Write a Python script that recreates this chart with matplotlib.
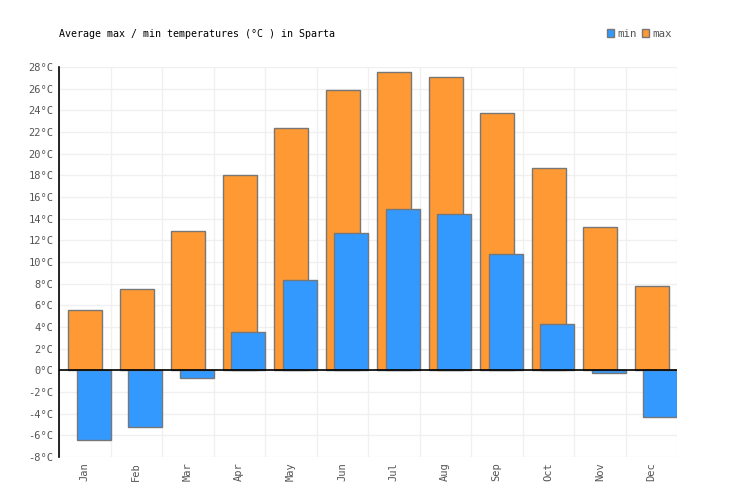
import numpy as np
import matplotlib.pyplot as plt
from matplotlib.patches import Patch

months = ['Jan', 'Feb', 'Mar', 'Apr', 'May', 'Jun', 'Jul', 'Aug', 'Sep', 'Oct', 'Nov', 'Dec']
t_max = [5.6, 7.5, 12.9, 18.0, 22.4, 25.9, 27.5, 27.1, 23.8, 18.7, 13.2, 7.8]
t_min = [-6.4, -5.2, -0.7, 3.5, 8.3, 12.7, 14.9, 14.4, 10.7, 4.3, -0.2, -4.3]

blue = '#3399ff'
orange = '#ff9933'
edge = '#777777'
txt = '#555555'

plt.rcParams['font.family'] = 'DejaVu Sans Mono'
plt.rcParams['font.size'] = 7.5

fig = plt.figure(figsize=(7.36, 5.0), dpi=100)
ax = fig.add_axes([59/736, 43/500, 618/736, 390/500])

x = np.arange(len(months))
w = 0.66
# max first, min drawn over it
ax.bar(x + 0.18, t_max, width=w, align='edge', color=orange, edgecolor=edge, linewidth=1, zorder=2)
ax.bar(x + 0.34, t_min, width=w, align='edge', color=blue, edgecolor=edge, linewidth=1, zorder=3)

ax.set_xlim(0, 12)
ax.set_ylim(-8, 28)
ax.set_yticks(np.arange(-8, 29, 2))
ax.set_yticklabels(['%d°C' % v for v in range(-8, 29, 2)], color=txt)
ax.set_xticks(x + 0.5)
ax.set_xticklabels(months, rotation=90, color=txt)
ax.set_xticks(np.arange(0, 13), minor=True)
ax.tick_params(axis='both', which='both', length=0)
ax.tick_params(axis='y', pad=4)
ax.tick_params(axis='x', pad=4)

ax.grid(True, which='minor', axis='x', color='#f0f0f0', linewidth=1, zorder=0)
ax.grid(True, which='major', axis='y', color='#f0f0f0', linewidth=1, zorder=0)
ax.set_axisbelow(True)

for s in ['top', 'right', 'bottom']:
    ax.spines[s].set_visible(False)
ax.spines['left'].set_color('black')
ax.spines['left'].set_linewidth(1.2)
ax.axhline(0, color='black', linewidth=1.2, zorder=4)

fig.text(59/736, 1 - 34/500, 'Average max / min temperatures (°C ) in Sparta',
         ha='left', va='center', fontsize=7.2, color='black')

handles = [Patch(facecolor=blue, edgecolor=edge, label='min'),
           Patch(facecolor=orange, edgecolor=edge, label='max')]
leg = fig.legend(handles=handles, loc='center right', bbox_to_anchor=(676/736, 1 - 34/500),
                 ncol=2, frameon=False, handlelength=0.7, handleheight=0.7,
                 handletextpad=0.25, columnspacing=0.5, fontsize=7.8, borderaxespad=0)
for t in leg.get_texts():
    t.set_color(txt)

fig.savefig('out.png', dpi=100)
